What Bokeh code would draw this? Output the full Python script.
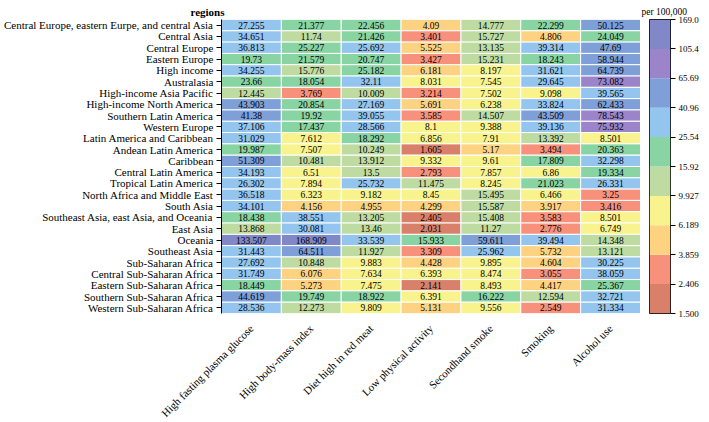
from bokeh.plotting import figure
from bokeh.layouts import row
from bokeh.models import (ColumnDataSource, FactorRange, LogColorMapper, Range1d,
                          FixedTicker, CustomJSTickFormatter, Span)
from bokeh.core.properties import value
from bokeh.embed import file_html
from bokeh.resources import INLINE
from math import pi

regions = [
    "Central Europe, eastern Eurpe, and central Asia", "Central Asia", "Central Europe",
    "Eastern Europe", "High income", "Australasia", "High-income Asia Pacific",
    "High-income North America", "Southern Latin America", "Western Europe",
    "Latin America and Caribbean", "Andean Latin America", "Caribbean",
    "Central Latin America", "Tropical Latin America", "North Africa and Middle East",
    "South Asia", "Southeast Asia, east Asia, and Oceania", "East Asia", "Oceania",
    "Southeast Asia", "Sub-Saharan Africa", "Central Sub-Saharan Africa",
    "Eastern Sub-Saharan Africa", "Southern Sub-Saharan Africa", "Western Sub-Saharan Africa",
]

risks = ["High fasting plasma glucose", "High body-mass index", "Diet high in red meat",
         "Low physical activity", "Secondhand smoke", "Smoking", "Alcohol use"]

high_fasting_plasma_glucose = [27.255, 34.651, 36.813, 19.73, 34.255, 23.66, 12.445, 43.903,
                               41.38, 37.106, 31.029, 19.987, 51.309, 34.193, 26.302, 36.518,
                               34.101, 18.438, 13.868, 133.507, 31.443, 27.692, 31.749, 18.449,
                               44.619, 28.536]
high_body_mass_index = [21.377, 11.74, 25.227, 21.579, 15.776, 18.054, 3.769, 20.854,
                        19.92, 17.437, 7.612, 7.507, 10.481, 6.51, 7.894, 6.323,
                        4.156, 38.551, 30.081, 168.909, 64.511, 10.848, 6.076, 5.273,
                        19.749, 12.273]
diet_high_in_red_meat = [22.456, 21.426, 25.692, 20.747, 25.182, 32.11, 10.009, 27.169,
                         39.055, 28.566, 18.292, 10.249, 13.912, 13.5, 25.732, 9.182,
                         4.955, 13.205, 13.46, 33.539, 11.927, 9.883, 7.634, 7.475,
                         18.922, 9.809]
low_physical_activity = [4.09, 3.401, 5.525, 3.427, 6.181, 8.031, 3.214, 5.691,
                         3.585, 8.1, 6.856, 1.605, 9.332, 2.793, 11.475, 8.45,
                         4.299, 2.405, 2.031, 15.933, 3.309, 4.428, 6.393, 2.141,
                         6.391, 5.131]
secondhand_smoke = [14.777, 15.727, 13.135, 15.231, 8.197, 7.545, 7.502, 6.238,
                    14.507, 9.388, 7.91, 5.17, 9.61, 7.857, 8.245, 15.495,
                    15.587, 15.408, 11.27, 59.611, 25.962, 9.895, 8.474, 8.493,
                    16.222, 9.556]
smoking = [22.299, 4.806, 39.314, 18.243, 31.621, 29.645, 9.098, 33.824,
           43.509, 39.136, 13.392, 3.494, 17.809, 6.86, 21.023, 6.466,
           3.917, 3.583, 2.776, 39.494, 5.732, 4.604, 3.055, 4.417,
           12.594, 2.549]
alcohol_use = [50.125, 24.049, 47.69, 58.944, 64.739, 73.082, 39.565, 62.433,
               78.543, 75.932, 8.501, 20.363, 32.298, 19.334, 26.331, 3.25,
               3.416, 8.501, 6.749, 14.348, 13.121, 30.225, 38.059, 25.367,
               32.721, 31.334]

colorbar_ticks = [1.5, 2.406, 3.859, 6.189, 9.927, 15.92, 25.54, 40.96, 65.69, 105.4, 169.0]
palette = ["#d9806b", "#f7917b", "#fdd382", "#f8f38c", "#bedca2",
           "#88d4a2", "#93c5ee", "#7e9fd8", "#9b84c9", "#8088c8"]

series = [high_fasting_plasma_glucose, high_body_mass_index, diet_high_in_red_meat,
          low_physical_activity, secondhand_smoke, smoking, alcohol_use]

xs, ys, vals, labels = [], [], [], []
for risk, col in zip(risks, series):
    for region, v in zip(regions, col):
        xs.append(risk)
        ys.append(region)
        vals.append(v)
        labels.append(str(v))

src = ColumnDataSource(dict(x=xs, y=ys, v=vals, label=labels))

FONT = "Liberation Serif"
mapper = LogColorMapper(palette=palette, low=colorbar_ticks[0], high=colorbar_ticks[-1])

FRAME_H = 294
TOP = 19

# ---- main heatmap ----
p = figure(x_range=FactorRange(*risks), y_range=FactorRange(*reversed(regions)),
           frame_width=419, frame_height=FRAME_H, output_backend="svg", toolbar_location=None,
           min_border_left=216, min_border_right=0, min_border_top=TOP, min_border_bottom=90)
p.outline_line_color = None
p.xgrid.visible = False
p.ygrid.visible = False

p.title.text = "regions"
p.title.align = "left"
p.title.offset = -31
p.title.standoff = 3
p.title.text_font = FONT
p.title.text_font_size = "11px"
p.title.text_font_style = "bold"
p.title.text_color = "black"

p.rect(x="x", y="y", width=1, height=1, source=src,
       fill_color={"field": "v", "transform": mapper}, line_color="white", line_width=1)
p.text(x="x", y="y", text="label", source=src, text_align="center", text_baseline="middle",
       text_font=value(FONT), text_font_size="9.5px", text_color="black")

p.yaxis.axis_line_color = "black"
p.yaxis.major_tick_line_color = "black"
p.yaxis.major_tick_out = 5
p.yaxis.major_tick_in = 0
p.yaxis.major_label_standoff = 3
p.yaxis.major_label_text_font = FONT
p.yaxis.major_label_text_font_size = "11px"
p.yaxis.major_label_text_color = "black"

p.xaxis.axis_line_color = None
p.xaxis.major_tick_line_color = None
p.xaxis.major_label_orientation = pi / 4
p.xaxis.major_label_standoff = 7
p.xaxis.major_label_text_font = FONT
p.xaxis.major_label_text_font_size = "11px"
p.xaxis.major_label_text_color = "black"

p.add_layout(Span(location=len(risks), dimension="height", line_color="black", line_width=1))

# ---- colour scale (log scale bins) ----
cb_src = ColumnDataSource(dict(bottom=colorbar_ticks[:-1], top=colorbar_ticks[1:], color=palette))
c = figure(y_axis_type="log", y_range=Range1d(colorbar_ticks[0], colorbar_ticks[-1]),
           x_range=Range1d(0, 1), frame_width=21, frame_height=FRAME_H,
           output_backend="svg", toolbar_location=None,
           x_axis_location=None, y_axis_location="right",
           min_border_left=9, min_border_right=0, min_border_top=TOP, min_border_bottom=90)
c.quad(left=0, right=1, bottom="bottom", top="top", fill_color="color", line_color=None,
       source=cb_src)
c.xgrid.visible = False
c.ygrid.visible = False
c.outline_line_color = "black"
c.outline_line_width = 1

c.title.text = "per 100,000"
c.title.align = "left"
c.title.offset = -8
c.title.standoff = 6
c.title.text_font = FONT
c.title.text_font_size = "9.5px"
c.title.text_font_style = "normal"
c.title.text_color = "black"

c.yaxis.ticker = FixedTicker(ticks=colorbar_ticks)
c.yaxis.formatter = CustomJSTickFormatter(code="return tick.toPrecision(4);")
c.yaxis.axis_line_color = None
c.yaxis.major_tick_line_color = "black"
c.yaxis.major_tick_out = 5
c.yaxis.major_tick_in = 0
c.yaxis.minor_tick_line_color = None
c.yaxis.major_label_standoff = 3
c.yaxis.major_label_text_font = FONT
c.yaxis.major_label_text_font_size = "9px"
c.yaxis.major_label_text_color = "black"

layout = row(p, c)
open("out.html", "w").write(file_html(layout, INLINE))
